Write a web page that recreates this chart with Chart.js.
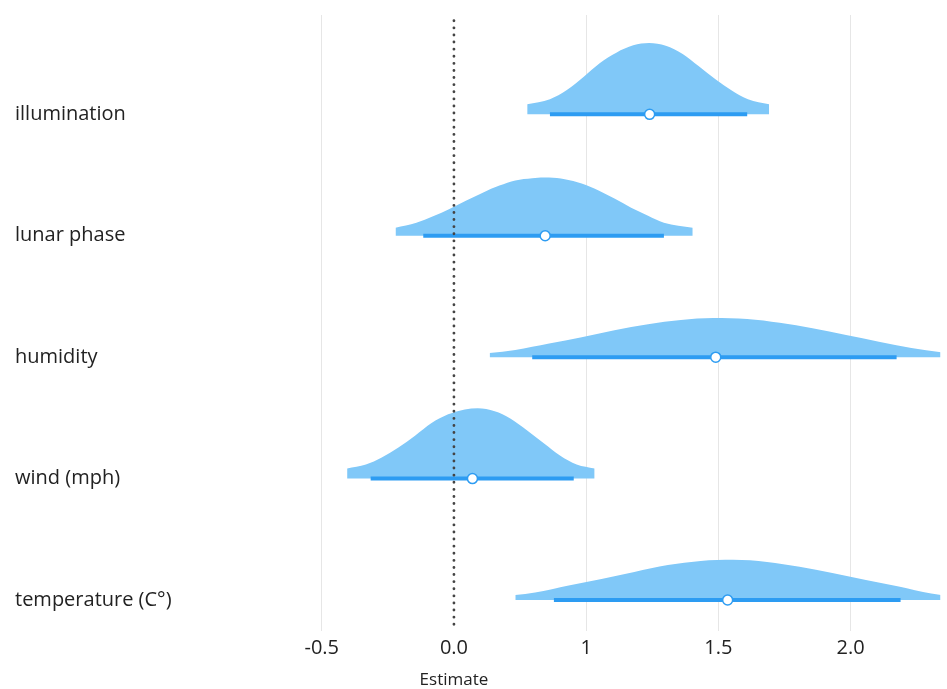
<!DOCTYPE html>
<html>
<head>
<meta charset="utf-8">
<script src="https://cdn.jsdelivr.net/npm/chart.js@4.4.0/dist/chart.umd.min.js"></script>
<style>
  html, body { margin: 0; padding: 0; background: #fff; }
  #wrap { width: 947px; height: 689px; }
</style>
</head>
<body>
<div id="wrap"><canvas id="halfEye"></canvas></div>
<script>
// categories, top to bottom
const categories = ["illumination", "lunar phase", "humidity", "wind (mph)", "temperature (C°)"];

// x tick positions and the labels printed under them
const xTickValues = [-0.5, 0, 0.5, 1, 1.5];
const xTickLabels = ["-0.5", "0.0", "1", "1.5", "2.0"];
const xTitle = "Estimate";

// point estimates and interval ends (same order as categories)
const pointEstimates = [0.74, 0.345, 0.99, 0.07, 1.035];
const intervalLow = [0.363, -0.116, 0.296, -0.315, 0.378];
const intervalHigh = [1.109, 0.794, 1.674, 0.453, 1.689];

// posterior densities (height in row units)
const illuminationX = [0.277, 0.363, 0.427, 0.491, 0.551, 0.614, 0.678, 0.738, 0.801, 0.865, 0.925, 0.989, 1.052, 1.112, 1.192];
const illuminationDensity = [0.083, 0.125, 0.200, 0.310, 0.421, 0.508, 0.568, 0.587, 0.564, 0.496, 0.397, 0.289, 0.195, 0.124, 0.083];

const lunarX = [-0.221, -0.142, -0.079, -0.015, 0.045, 0.109, 0.172, 0.232, 0.296, 0.360, 0.419, 0.483, 0.547, 0.607, 0.670, 0.734, 0.794, 0.903];
const lunarDensity = [0.066, 0.107, 0.160, 0.223, 0.289, 0.355, 0.413, 0.455, 0.474, 0.479, 0.465, 0.430, 0.372, 0.306, 0.231, 0.165, 0.107, 0.066];

const humidityX = [0.135, 0.232, 0.360, 0.483, 0.607, 0.734, 0.858, 0.981, 1.109, 1.232, 1.356, 1.483, 1.607, 1.730, 1.845];
const humidityDensity = [0.035, 0.060, 0.112, 0.165, 0.222, 0.272, 0.306, 0.322, 0.314, 0.283, 0.238, 0.182, 0.128, 0.076, 0.040];

const windX = [-0.404, -0.333, -0.273, -0.210, -0.146, -0.086, -0.022, 0.041, 0.090, 0.154, 0.213, 0.277, 0.341, 0.401, 0.464, 0.532];
const windDensity = [0.083, 0.116, 0.174, 0.256, 0.355, 0.455, 0.529, 0.570, 0.579, 0.554, 0.496, 0.397, 0.289, 0.190, 0.116, 0.083];

const temperatureX = [0.232, 0.307, 0.434, 0.558, 0.682, 0.809, 0.933, 1.056, 1.184, 1.307, 1.431, 1.558, 1.682, 1.805, 1.845];
const temperatureDensity = [0.041, 0.062, 0.120, 0.174, 0.231, 0.288, 0.322, 0.331, 0.314, 0.274, 0.222, 0.166, 0.112, 0.054, 0.041];

const densityX = [illuminationX, lunarX, humidityX, windX, temperatureX];
const densityY = [illuminationDensity, lunarDensity, humidityDensity, windDensity, temperatureDensity];

const fillBlue = "#80c8f8";
const lineBlue = "#2d9cf2";
const labelFont = "Open Sans";

const datasets = [];
categories.forEach((name, i) => {
  const row = categories.length - 1 - i;
  // density shape
  datasets.push({
    type: "line",
    label: name,
    data: densityX[i].map((x, k) => ({ x: x, y: row + densityY[i][k] })),
    borderWidth: 0,
    borderColor: fillBlue,
    backgroundColor: fillBlue,
    fill: { value: row },
    cubicInterpolationMode: "monotone",
    pointRadius: 0,
    order: 4,
  });
  // interval
  datasets.push({
    type: "line",
    label: name + " interval",
    data: [{ x: intervalLow[i], y: row }, { x: intervalHigh[i], y: row }],
    borderWidth: 4,
    borderColor: lineBlue,
    pointRadius: 0,
    fill: false,
    order: 3,
  });
});

// dotted zero line
datasets.push({
  type: "line",
  label: "zero",
  data: [{ x: 0, y: -0.2 }, { x: 0, y: 4.8 }],
  borderColor: "#444",
  borderWidth: 2.8,
  borderDash: [0.1, 7],
  borderCapStyle: "round",
  pointRadius: 0,
  fill: false,
  order: 2,
});

// point estimates
datasets.push({
  type: "scatter",
  label: "estimate",
  data: pointEstimates.map((x, i) => ({ x: x, y: categories.length - 1 - i })),
  pointRadius: 5,
  pointBackgroundColor: "#fff",
  pointBorderColor: lineBlue,
  pointBorderWidth: 1.5,
  order: 1,
});

// axis title sits under the zero line in the original figure
const xTitlePlugin = {
  id: "xTitle",
  afterDraw(chart) {
    const c = chart.ctx;
    c.save();
    c.font = "17px " + labelFont;
    c.fillStyle = "#222";
    c.textAlign = "center";
    c.textBaseline = "middle";
    c.fillText(xTitle, chart.scales.x.getPixelForValue(0), chart.height - 9);
    c.restore();
  },
};

const ctx = document.getElementById("halfEye").getContext("2d");
new Chart(ctx, {
  type: "scatter",
  data: { datasets: datasets },
  plugins: [xTitlePlugin],
  options: {
    responsive: true,
    maintainAspectRatio: false,
    animation: false,
    layout: { padding: { left: 15, right: 0, top: 0, bottom: 24 } },
    plugins: {
      legend: { display: false },
      tooltip: { enabled: false },
    },
    scales: {
      x: {
        type: "linear",
        min: -0.62,
        max: 1.84,
        afterBuildTicks: (axis) => {
          axis.ticks = xTickValues.map((v) => ({ value: v }));
        },
        ticks: {
          callback: (value) => xTickLabels[xTickValues.indexOf(value)],
          color: "#222",
          font: { family: labelFont, size: 20 },
          padding: 5,
          maxRotation: 0,
        },
        grid: {
          color: (c) => (c.tick && c.tick.value === 0 ? "rgba(0,0,0,0)" : "#e6e6e6"),
          lineWidth: 1,
          drawTicks: false,
        },
        border: { display: false },
      },
      y: {
        type: "linear",
        min: -0.255,
        max: 4.818,
        afterBuildTicks: (axis) => {
          axis.ticks = categories.map((c, i) => ({ value: categories.length - 1 - i }));
        },
        afterFit: (axis) => {
          axis.width = 275;
        },
        ticks: {
          callback: (value) => categories[categories.length - 1 - value],
          crossAlign: "far",
          color: "#222",
          font: { family: labelFont, size: 20 },
        },
        grid: { display: false },
        border: { display: false },
      },
    },
  },
});
</script>
</body>
</html>
